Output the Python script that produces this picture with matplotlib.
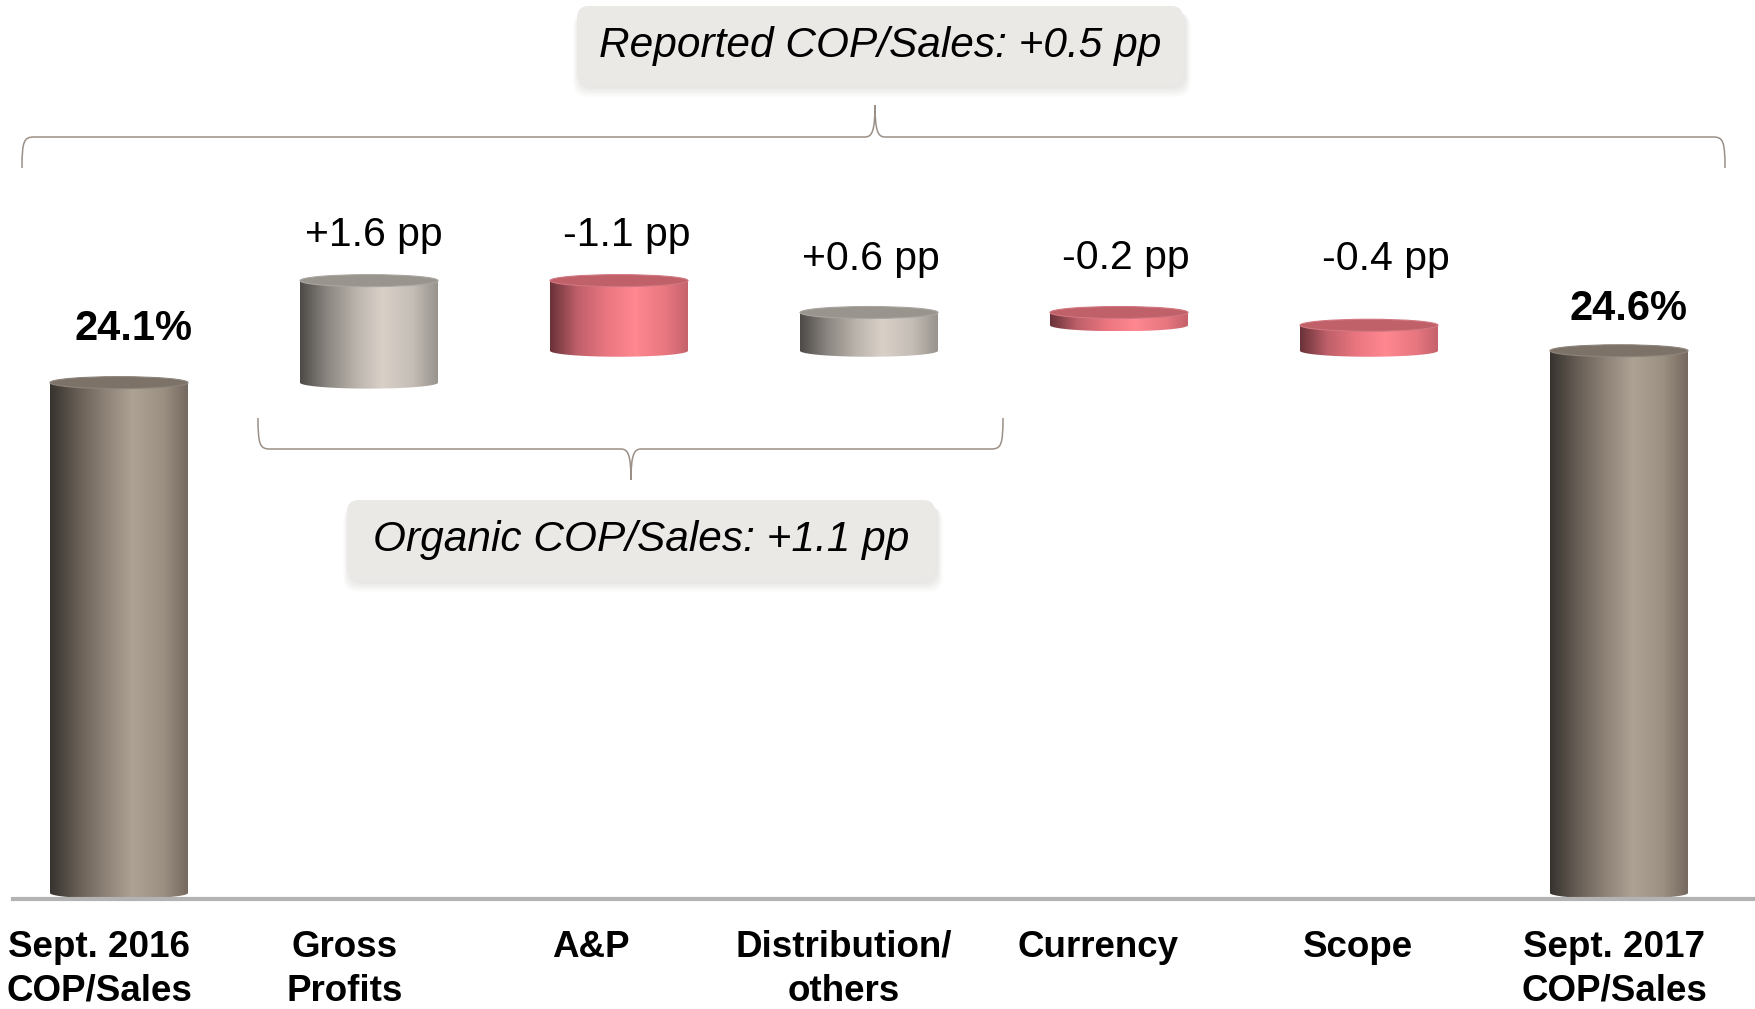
import numpy as np
import matplotlib
matplotlib.use("Agg")
import matplotlib.pyplot as plt
from matplotlib.patches import Ellipse, Polygon, FancyBboxPatch, PathPatch
from matplotlib.path import Path
from matplotlib.colors import LinearSegmentedColormap
from matplotlib.transforms import Affine2D

plt.rcParams["font.family"] = ["Liberation Sans", "DejaVu Sans"]

# ---- data -------------------------------------------------------------
categories = ["Sept. 2016\nCOP/Sales", "Gross\nProfits", "A&P",
              "Distribution/\nothers", "Currency", "Scope",
              "Sept. 2017\nCOP/Sales"]
start_total = 24.1
end_total = 24.6
changes = [1.6, -1.1, 0.6, -0.2, -0.4]
change_labels = ["+1.6 pp", "-1.1 pp", "+0.6 pp", "-0.2 pp", "-0.4 pp"]
total_labels = ["24.1%", "24.6%"]
reported_text = "Reported COP/Sales: +0.5 pp"
organic_text = "Organic COP/Sales: +1.1 pp"
axis_floor = 16.0

# ---- layout -----------------------------------------------------------
W, H, DPI = 1756, 1009, 100
PX_PER_PP = 63.75          # vertical scale (pixels per percentage point)
FLOOR_PX = 899             # baseline position, pixels from top
SLOT_PX = 250              # horizontal distance between bars
FIRST_PX = 119             # centre of first bar
BAR_W = 0.552
CAP_B = 6 / PX_PER_PP      # half-height of the elliptical caps

fig = plt.figure(figsize=(W / DPI, H / DPI), dpi=DPI)
fig.patch.set_facecolor("white")
ax = fig.add_axes([0, 0, 1, 1])
ax.axis("off")

# pixel transform (origin top-left) for the callout boxes and braces
px = Affine2D().scale(1, -1).translate(0, H)

dark_stops = [(0.0, "#37332f"), (0.2, "#675e55"), (0.42, "#918579"),
              (0.6, "#aea295"), (0.82, "#9c9083"), (1.0, "#766a60")]
light_stops = [(0.0, "#4d4a47"), (0.2, "#8c8782"), (0.42, "#bdb6ae"),
               (0.6, "#d9d1c8"), (0.82, "#c4bdb6"), (1.0, "#98938d")]
red_stops = [(0.0, "#6a3238"), (0.2, "#bf606a"), (0.42, "#ec7781"),
             (0.62, "#ff8891"), (0.85, "#e6767f"), (1.0, "#c5626c")]


def cylinder(cx, lo, hi, stops, cap_color, rim_color):
    half = BAR_W / 2
    t = np.linspace(np.pi, 2 * np.pi, 80)
    arc = np.column_stack([cx + half * np.cos(t), lo + CAP_B * np.sin(t)])
    verts = np.vstack([[cx - half, hi], arc, [cx + half, hi]])
    clip = Polygon(verts, closed=True, facecolor="none", edgecolor="none")
    ax.add_patch(clip)
    cmap = LinearSegmentedColormap.from_list("shade", stops)
    grad = cmap(np.linspace(0, 1, 256))[None, :, :]
    im = ax.imshow(grad, extent=[cx - half, cx + half, lo - CAP_B, hi],
                   aspect="auto", interpolation="bilinear", zorder=2)
    im.set_clip_path(clip)
    ax.add_patch(Ellipse((cx, hi), 2 * half, 2 * CAP_B, facecolor=cap_color,
                         edgecolor=rim_color, lw=0.8, zorder=3))


x = np.arange(len(categories))

# totals
totals = [start_total, end_total]
for xi, val in zip([x[0], x[-1]], totals):
    cylinder(xi, axis_floor + CAP_B, val, dark_stops, "#7c7268", "#8d847b")

# floating steps
level = start_total
for i, d in enumerate(changes):
    new = level + d
    lo, hi = min(level, new), max(level, new)
    if d >= 0:
        cylinder(x[i + 1], lo, hi, light_stops, "#99948e", "#aaa59f")
    else:
        cylinder(x[i + 1], lo, hi, red_stops, "#c0616a", "#d27680")
    level = new

# baseline
ax.axhline(axis_floor, xmin=13 / W, xmax=1753 / W, color="#b3b3b3", lw=3.0,
           zorder=4)

# value labels above the steps
delta_gap_px = [35, 35, 42, 43, 55]
delta_dx_px = [5, 8, 2, 7, 17]
level = start_total
for i, d in enumerate(changes):
    new = level + d
    hi = max(level, new)
    ax.annotate(change_labels[i], xy=(x[i + 1], hi),
                xytext=(delta_dx_px[i], delta_gap_px[i]),
                textcoords="offset pixels", ha="center", va="baseline",
                fontsize=29.5, color="black", zorder=5)
    level = new

# total labels
total_gap_px = [43, 31]
total_dx_px = [14, 10]
for k, (xi, val) in enumerate(zip([x[0], x[-1]], totals)):
    ax.annotate(total_labels[k], xy=(xi, val),
                xytext=(total_dx_px[k], total_gap_px[k]),
                textcoords="offset pixels", ha="center", va="baseline",
                fontsize=30, fontweight="bold", color="black", zorder=5)

# category labels
cat_dx_px = [-20, -24, -28, -25, -21, -11, -5]
for i, cat in enumerate(categories):
    for j, line in enumerate(cat.split("\n")):
        ax.annotate(line, xy=(x[i], axis_floor),
                    xytext=(cat_dx_px[i], -(58 + 44 * j)),
                    textcoords="offset pixels", ha="center", va="baseline",
                    fontsize=26.5, fontweight="bold", color="black")


# ---- braces -----------------------------------------------------------
def brace(x0, x1, xc, y_line, y_end, y_tip):
    s_end = np.sign(y_end - y_line)
    s_tip = np.sign(y_tip - y_line)
    r = 12
    c = 10
    verts = [(x0, y_end),
             (x0, y_line + s_end * 4), (x0 + 2, y_line), (x0 + r, y_line),
             (xc - c, y_line),
             (xc - 3, y_line), (xc, y_line + s_tip * 6), (xc, y_tip),
             (xc, y_line + s_tip * 6), (xc + 3, y_line), (xc + c, y_line),
             (x1 - r, y_line),
             (x1 - 2, y_line), (x1, y_line + s_end * 4), (x1, y_end)]
    codes = [Path.MOVETO,
             Path.CURVE4, Path.CURVE4, Path.CURVE4,
             Path.LINETO,
             Path.CURVE4, Path.CURVE4, Path.CURVE4,
             Path.CURVE4, Path.CURVE4, Path.CURVE4,
             Path.LINETO,
             Path.CURVE4, Path.CURVE4, Path.CURVE4]
    fig.add_artist(PathPatch(Path(verts, codes), transform=px, fill=False,
                             edgecolor="#9b9087", lw=1.1, zorder=6))


brace(22, 1725, 875, 137, 168, 105)
brace(258, 1003, 631, 449, 418, 480)


# ---- callout boxes ----------------------------------------------------
def callout(x0, y0, x1, y1, text):
    w, h = x1 - x0, y1 - y0
    for k, a in enumerate([0.05, 0.05, 0.045, 0.04]):
        grow = 1 + k * 1.5
        fig.add_artist(FancyBboxPatch(
            (x0 - grow + 2, y0 + 4 + k), w + 2 * grow, h + grow,
            boxstyle="round,pad=0,rounding_size=14", transform=px,
            facecolor="#8a857f", edgecolor="none", alpha=a, zorder=6))
    fig.add_artist(FancyBboxPatch(
        (x0, y0), w, h, boxstyle="round,pad=0,rounding_size=12",
        transform=px, facecolor="#ebe9e6", edgecolor="none", zorder=7))
    fig.text((x0 + x1) / 2, (y0 + y1) / 2 + 1, text, transform=px,
             ha="center", va="center", fontsize=30.5, style="italic",
             color="black", zorder=8)


callout(577, 6, 1183, 84, reported_text)
callout(347, 500, 935, 579, organic_text)

ax.set_xlim(-FIRST_PX / SLOT_PX, (W - FIRST_PX) / SLOT_PX)
ax.set_ylim(axis_floor - (H - FLOOR_PX) / PX_PER_PP,
            axis_floor + FLOOR_PX / PX_PER_PP)

fig.savefig("out.png", dpi=DPI, facecolor="white")
